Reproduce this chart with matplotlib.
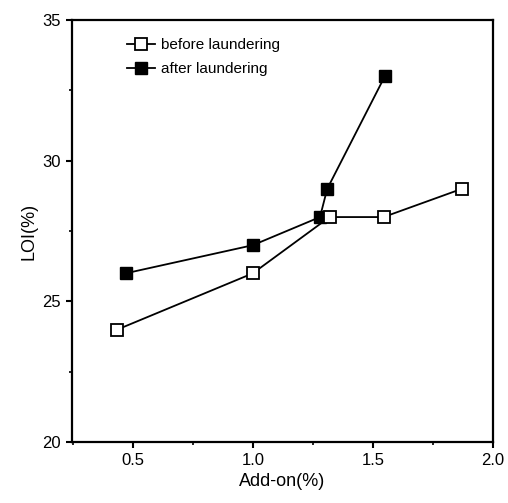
import matplotlib
matplotlib.use("Agg")
import matplotlib.pyplot as plt
from matplotlib.ticker import MultipleLocator

plt.rcParams['font.family'] = ['Liberation Sans', 'DejaVu Sans']

# data
before_x = [0.435, 1.0, 1.32, 1.545, 1.87]
before_y = [24, 26, 28, 28, 29]
after_x = [0.47, 1.0, 1.28, 1.31, 1.55]
after_y = [26, 27, 28, 29, 33]

fig = plt.figure(figsize=(5.08, 5.03), dpi=100)
ax = fig.add_axes([0.141, 0.121, 0.829, 0.839])

ax.plot(before_x, before_y, color='black', lw=1.3, marker='s', ms=8,
        mfc='white', mec='black', mew=1.3, label='before laundering', zorder=3)
ax.plot(after_x, after_y, color='black', lw=1.3, marker='s', ms=8,
        mfc='black', mec='black', label='after laundering', zorder=2)

ax.set_xlim(0.245, 2.0)
ax.set_ylim(20, 35)
ax.xaxis.set_major_locator(MultipleLocator(0.5))
ax.xaxis.set_minor_locator(MultipleLocator(0.25))
ax.yaxis.set_major_locator(MultipleLocator(5))
ax.yaxis.set_minor_locator(MultipleLocator(2.5))
ax.tick_params(which='major', length=4, width=1.5, labelsize=12)
ax.tick_params(which='minor', length=2, width=1.2)
for s in ax.spines.values():
    s.set_linewidth(1.6)

ax.set_xlabel('Add-on(%)', fontsize=13)
ax.set_ylabel('LOI(%)', fontsize=13)

ax.legend(loc='upper left', bbox_to_anchor=(0.1, 0.99), frameon=False,
          fontsize=11, handlelength=1.8, handletextpad=0.4, labelspacing=0.65)

fig.savefig('out.png', dpi=100)
